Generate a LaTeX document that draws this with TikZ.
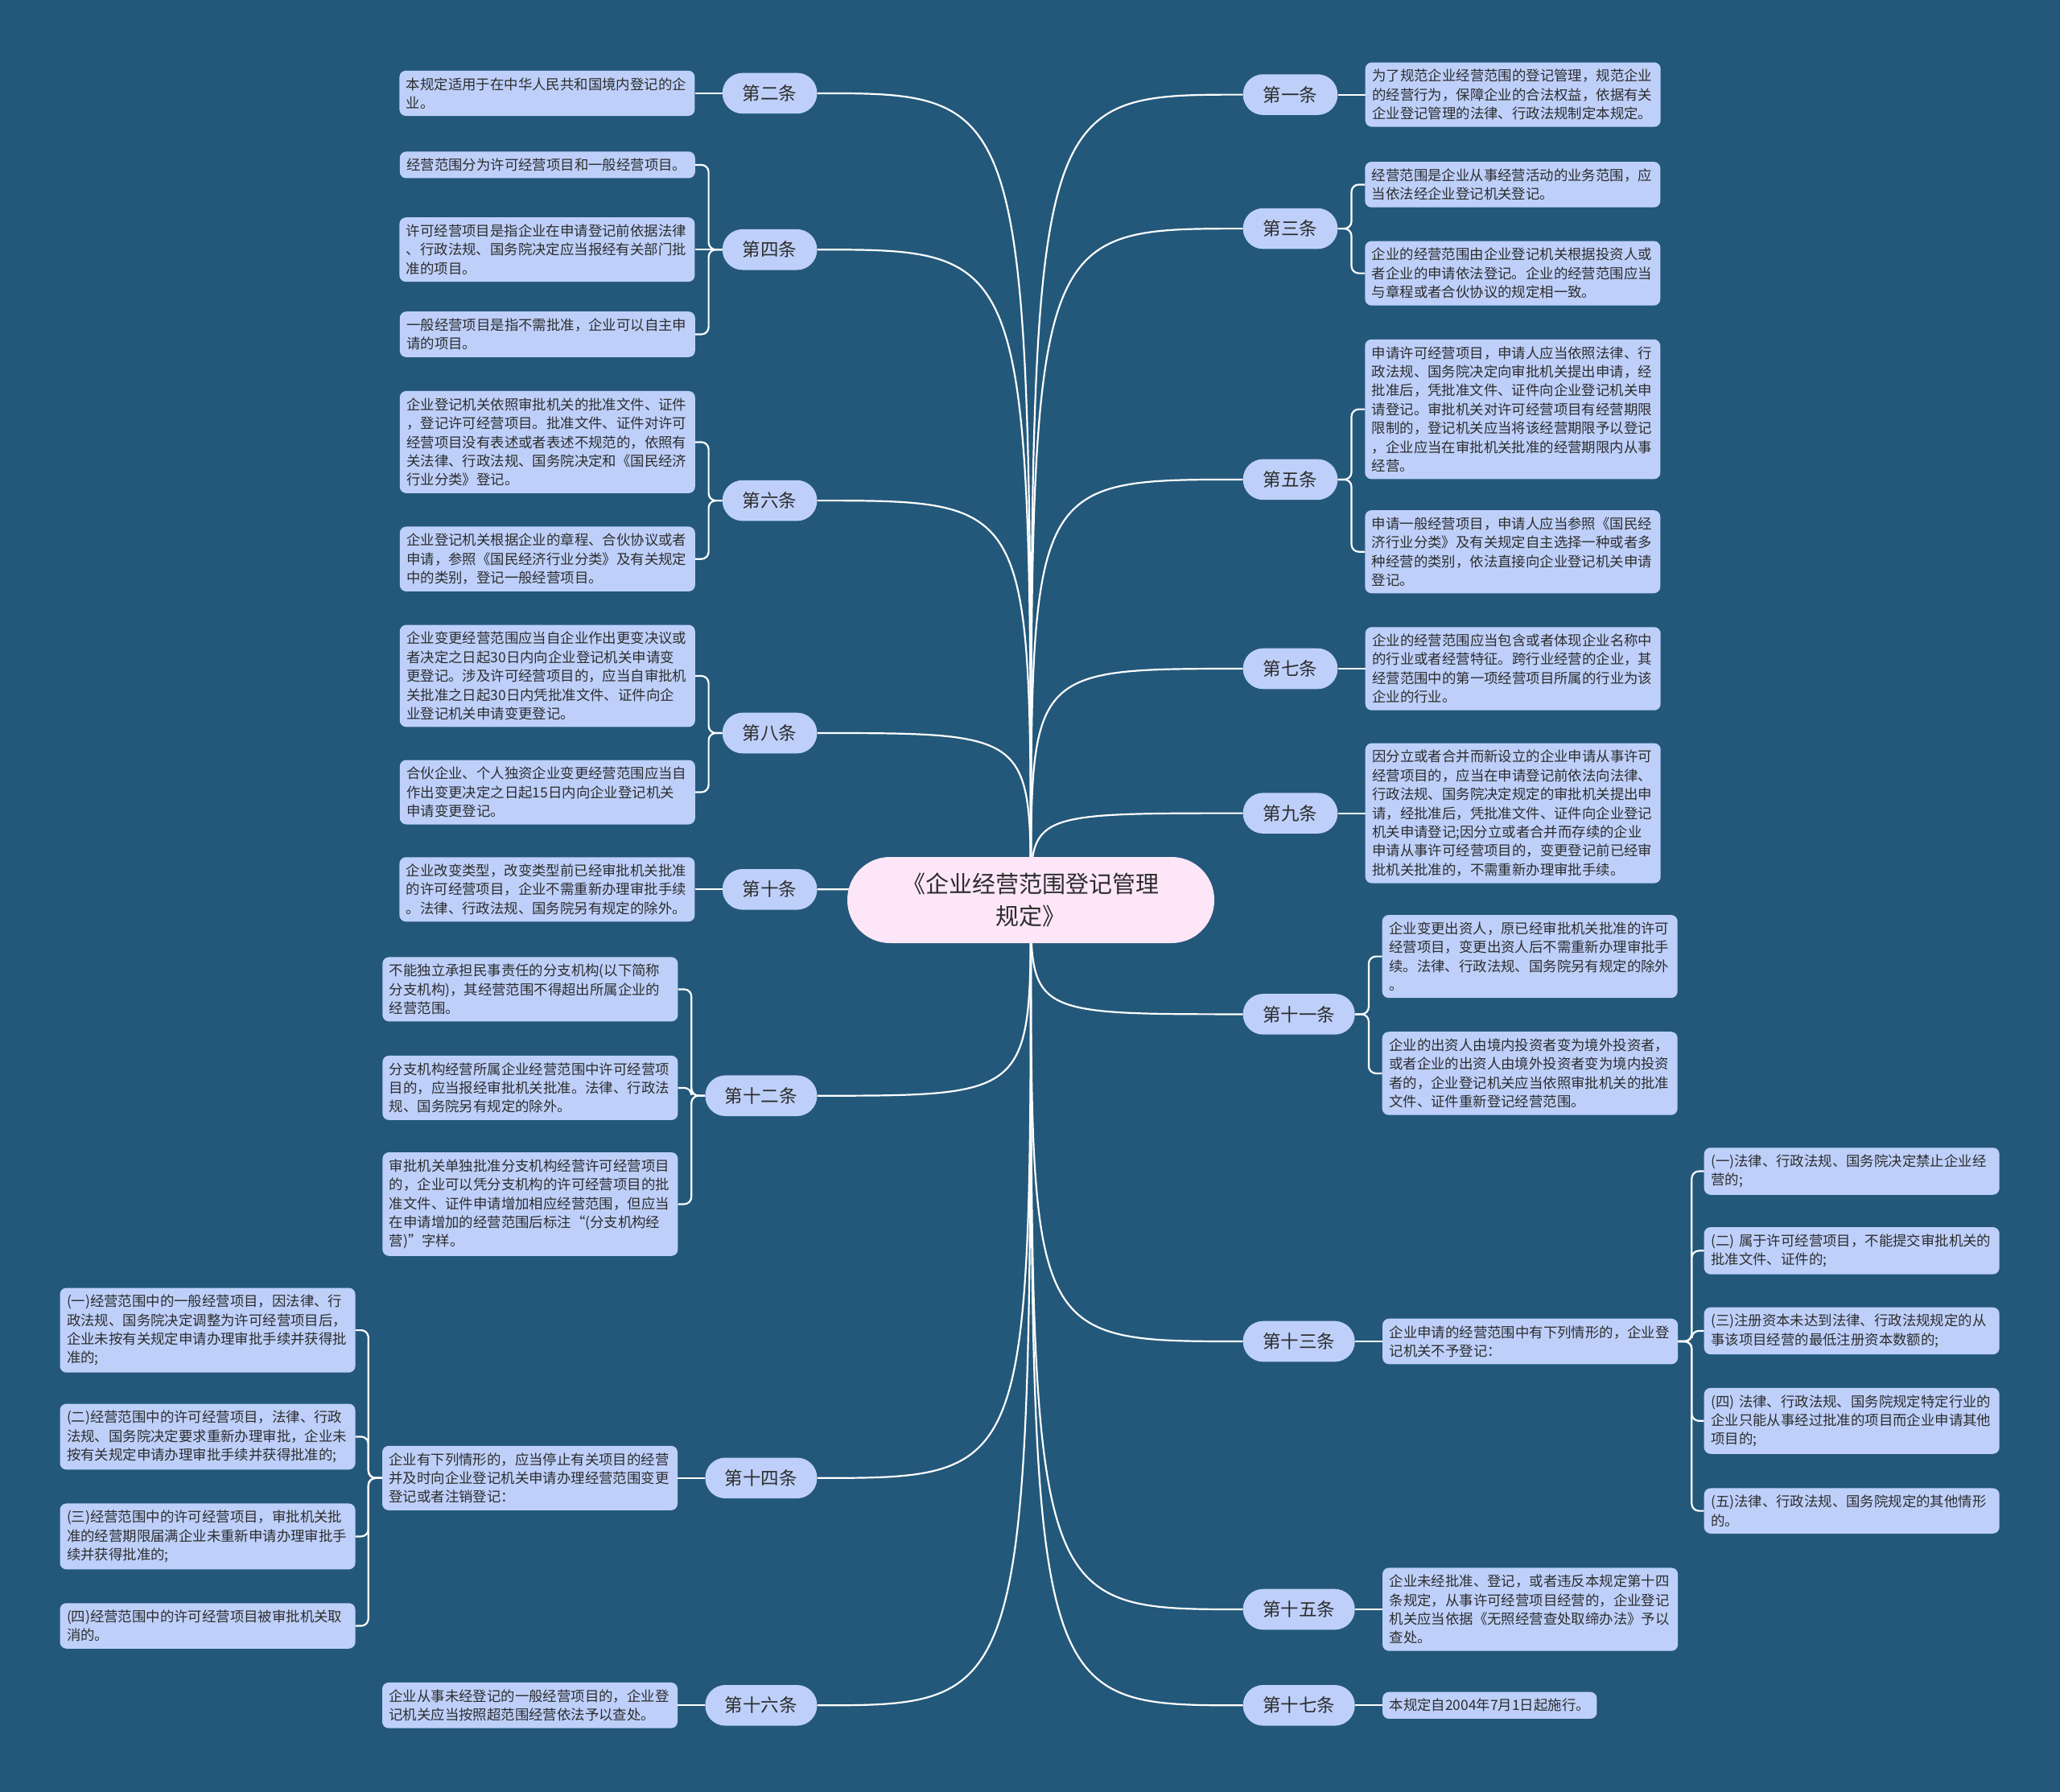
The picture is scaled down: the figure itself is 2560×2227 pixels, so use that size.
\documentclass[tikz,border=0pt]{standalone}
\usepackage{fontspec}
\newfontfamily\cjk{Noto Sans CJK SC}
\usetikzlibrary{positioning}

\definecolor{bgblue}{RGB}{35,88,122}
\definecolor{leafblue}{RGB}{190,208,250}
\definecolor{rootpink}{RGB}{253,230,248}
\definecolor{txtgray}{RGB}{45,45,45}

\pgfdeclarelayer{back}
\pgfdeclarelayer{links}
\pgfsetlayers{back,links,main}

\tikzset{
  leaf/.style={fill=leafblue, rounded corners=8pt, text=txtgray,
    font=\cjk\fontsize{17.4}{23.4}\selectfont, inner xsep=8.5pt, inner ysep=8.5pt, align=left},
  leafw/.style={leaf, text width=350pt},
  leafL/.style={leafw, anchor=east},
  leafR/.style={leafw, anchor=west},
  tiao/.style={fill=leafblue, rounded corners=25pt, text=txtgray,
    font=\cjk\fontsize{22.5}{27}\selectfont, minimum height=50.6pt, minimum width=117.6pt, inner sep=0pt},
  tiao4/.style={tiao, minimum width=139pt},
  root/.style={fill=rootpink, rounded corners=53pt, text=txtgray, align=center,
    font=\cjk\fontsize{29}{40}\selectfont, minimum width=456pt, minimum height=107pt},
  link/.style={draw=white, line width=2.2pt},
  bracket/.style={link, rounded corners=9pt},
}

\begin{document}
\begin{tikzpicture}[x=1pt, y=-1pt, node distance=34pt, line join=round, line cap=round]
    \useasboundingbox (0,0) rectangle (2560,2227);
    \begin{pgfonlayer}{back}
        \fill[bgblue] (0,0) rectangle (2560,2227);
    \end{pgfonlayer}

    % root
    \node[root] (root) at (1281,1118.5) {《企业经营范围登记管理\\规定》};

    % articles, left side
    \node[tiao, anchor=east] (p2) at (1015.6,115.9) {第二条};
    \node[tiao, anchor=east] (p4) at (1015.6,310.2) {第四条};
    \node[tiao, anchor=east] (p6) at (1015.6,622.1) {第六条};
    \node[tiao, anchor=east] (p8) at (1015.6,911.0) {第八条};
    \node[tiao, anchor=east] (p10) at (1015.6,1105.3) {第十条};
    \node[tiao4, anchor=east] (p12) at (1015.6,1361.7) {第十二条};
    \node[tiao4, anchor=east] (p14) at (1015.6,1836.8) {第十四条};
    \node[tiao4, anchor=east] (p16) at (1015.6,2119.3) {第十六条};

    % articles, right side
    \node[tiao, anchor=west] (p1) at (1544.5,117.6) {第一条};
    \node[tiao, anchor=west] (p3) at (1544.5,284.1) {第三条};
    \node[tiao, anchor=west] (p5) at (1544.5,595.9) {第五条};
    \node[tiao, anchor=west] (p7) at (1544.5,831.0) {第七条};
    \node[tiao, anchor=west] (p9) at (1544.5,1010.6) {第九条};
    \node[tiao4, anchor=west] (p11) at (1544.5,1260.4) {第十一条};
    \node[tiao4, anchor=west] (p13) at (1544.5,1667.0) {第十三条};
    \node[tiao4, anchor=west] (p15) at (1544.5,2000.0) {第十五条};
    \node[tiao4, anchor=west] (p17) at (1544.5,2119.3) {第十七条};

    % left leaves
    \node[leafw, left=of p2] (l2a) {本规定适用于在中华人民共和国境内登记的企\\业。};
    \node[leafL] (l4a) at (864,204.9) {经营范围分为许可经营项目和一般经营项目。};
    \node[leafw, left=of p4] (l4b) {许可经营项目是指企业在申请登记前依据法律\\、行政法规、国务院决定应当报经有关部门批\\准的项目。};
    \node[leafL] (l4c) at (864,415.5) {一般经营项目是指不需批准，企业可以自主申\\请的项目。};
    \node[leafL] (l6a) at (864,549.4) {企业登记机关依照审批机关的批准文件、证件\\，登记许可经营项目。批准文件、证件对许可\\经营项目没有表述或者表述不规范的，依照有\\关法律、行政法规、国务院决定和《国民经济\\行业分类》登记。};
    \node[leafL] (l6b) at (864,694.7) {企业登记机关根据企业的章程、合伙协议或者\\申请，参照《国民经济行业分类》及有关规定\\中的类别，登记一般经营项目。};
    \node[leafL] (l8a) at (864,840.0) {企业变更经营范围应当自企业作出更变决议或\\者决定之日起30日内向企业登记机关申请变\\更登记。涉及许可经营项目的，应当自审批机\\关批准之日起30日内凭批准文件、证件向企\\业登记机关申请变更登记。};
    \node[leafL] (l8b) at (864,984.5) {合伙企业、个人独资企业变更经营范围应当自\\作出变更决定之日起15日内向企业登记机关\\申请变更登记。};
    \node[leafw, left=of p10] (l10a) {企业改变类型，改变类型前已经审批机关批准\\的许可经营项目，企业不需重新办理审批手续\\。法律、行政法规、国务院另有规定的除外。};
    \node[leafL] (l12a) at (842.6,1229.4) {不能独立承担民事责任的分支机构(以下简称\\分支机构)，其经营范围不得超出所属企业的\\经营范围。};
    \node[leafL] (l12b) at (842.6,1351.9) {分支机构经营所属企业经营范围中许可经营项\\目的，应当报经审批机关批准。法律、行政法\\规、国务院另有规定的除外。};
    \node[leafL] (l12c) at (842.6,1496.4) {审批机关单独批准分支机构经营许可经营项目\\的，企业可以凭分支机构的许可经营项目的批\\准文件、证件申请增加相应经营范围，但应当\\在申请增加的经营范围后标注“(分支机构经\\营)”字样。};
    \node[leafw, left=of p14] (l14m) {企业有下列情形的，应当停止有关项目的经营\\并及时向企业登记机关申请办理经营范围变更\\登记或者注销登记：};
    \node[leafL] (l14a) at (441.7,1653.1) {(一)经营范围中的一般经营项目，因法律、行\\政法规、国务院决定调整为许可经营项目后，\\企业未按有关规定申请办理审批手续并获得批\\准的;};
    \node[leafL] (l14b) at (441.7,1785.4) {(二)经营范围中的许可经营项目，法律、行政\\法规、国务院决定要求重新办理审批，企业未\\按有关规定申请办理审批手续并获得批准的;};
    \node[leafL] (l14c) at (441.7,1909.4) {(三)经营范围中的许可经营项目，审批机关批\\准的经营期限届满企业未重新申请办理审批手\\续并获得批准的;};
    \node[leafL] (l14d) at (441.7,2020.5) {(四)经营范围中的许可经营项目被审批机关取\\消的。};
    \node[leafw, left=of p16] (l16a) {企业从事未经登记的一般经营项目的，企业登\\记机关应当按照超范围经营依法予以查处。};

    % right leaves
    \node[leafw, right=of p1] (r1a) {为了规范企业经营范围的登记管理，规范企业\\的经营行为，保障企业的合法权益，依据有关\\企业登记管理的法律、行政法规制定本规定。};
    \node[leafR] (r3a) at (1696.1,229.4) {经营范围是企业从事经营活动的业务范围，应\\当依法经企业登记机关登记。};
    \node[leafR] (r3b) at (1696.1,339.6) {企业的经营范围由企业登记机关根据投资人或\\者企业的申请依法登记。企业的经营范围应当\\与章程或者合伙协议的规定相一致。};
    \node[leafR] (r5a) at (1696.1,508.6) {申请许可经营项目，申请人应当依照法律、行\\政法规、国务院决定向审批机关提出申请，经\\批准后，凭批准文件、证件向企业登记机关申\\请登记。审批机关对许可经营项目有经营期限\\限制的，登记机关应当将该经营期限予以登记\\，企业应当在审批机关批准的经营期限内从事\\经营。};
    \node[leafR] (r5b) at (1696.1,685.7) {申请一般经营项目，申请人应当参照《国民经\\济行业分类》及有关规定自主选择一种或者多\\种经营的类别，依法直接向企业登记机关申请\\登记。};
    \node[leafw, right=of p7] (r7a) {企业的经营范围应当包含或者体现企业名称中\\的行业或者经营特征。跨行业经营的企业，其\\经营范围中的第一项经营项目所属的行业为该\\企业的行业。};
    \node[leafw, right=of p9] (r9a) {因分立或者合并而新设立的企业申请从事许可\\经营项目的，应当在申请登记前依法向法律、\\行政法规、国务院决定规定的审批机关提出申\\请，经批准后，凭批准文件、证件向企业登记\\机关申请登记;因分立或者合并而存续的企业\\申请从事许可经营项目的，变更登记前已经审\\批机关批准的，不需重新办理审批手续。};
    \node[leafR] (r11a) at (1717.5,1188.6) {企业变更出资人，原已经审批机关批准的许可\\经营项目，变更出资人后不需重新办理审批手\\续。法律、行政法规、国务院另有规定的除外\\。};
    \node[leafR] (r11b) at (1717.5,1333.9) {企业的出资人由境内投资者变为境外投资者，\\或者企业的出资人由境外投资者变为境内投资\\者的，企业登记机关应当依照审批机关的批准\\文件、证件重新登记经营范围。};
    \node[leafw, right=of p13] (r13m) {企业申请的经营范围中有下列情形的，企业登\\记机关不予登记：};
    \node[leafR] (r13a) at (2117.5,1455.5) {(一)法律、行政法规、国务院决定禁止企业经\\营的;};
    \node[leafR] (r13b) at (2117.5,1554.3) {(二) 属于许可经营项目，不能提交审批机关的\\批准文件、证件的;};
    \node[leafR] (r13c) at (2117.5,1653.9) {(三)注册资本未达到法律、行政法规规定的从\\事该项目经营的最低注册资本数额的;};
    \node[leafR] (r13d) at (2117.5,1765.8) {(四) 法律、行政法规、国务院规定特定行业的\\企业只能从事经过批准的项目而企业申请其他\\项目的;};
    \node[leafR] (r13e) at (2117.5,1877.6) {(五)法律、行政法规、国务院规定的其他情形\\的。};
    \node[leafw, right=of p15] (r15a) {企业未经批准、登记，或者违反本规定第十四\\条规定，从事许可经营项目经营的，企业登记\\机关应当依据《无照经营查处取缔办法》予以\\查处。};
    \node[leaf, right=of p17] (r17a) {本规定自2004年7月1日起施行。};

    % connectors
    \begin{pgfonlayer}{links}
        \foreach \p in {p2,p4,p6,p8,p10,p12,p14,p16}
            \draw[link] (root.center) .. controls (root.center |- \p.east) .. (\p.east);
        \foreach \p in {p1,p3,p5,p7,p9,p11,p13,p15,p17}
            \draw[link] (root.center) .. controls (root.center |- \p.west) .. (\p.west);
        \foreach \a/\b in {p2/l2a, p4/l4b, p10/l10a, p14/l14m, p16/l16a}
            \draw[link] (\a.west) -- (\b.east);
        \foreach \a/\b in {p1/r1a, p7/r7a, p9/r9a, p13/r13m, p15/r15a, p17/r17a}
            \draw[link] (\a.east) -- (\b.west);
        \foreach \a/\b in {p4/l4a, p4/l4c, p6/l6a, p6/l6b, p8/l8a, p8/l8b,
            p12/l12a, p12/l12b, p12/l12c, l14m/l14a, l14m/l14b, l14m/l14c, l14m/l14d}
            \draw[bracket] (\a.west) -- ++(-17,0) |- (\b.east);
        \foreach \a/\b in {p3/r3a, p3/r3b, p5/r5a, p5/r5b, p11/r11a, p11/r11b,
            r13m/r13a, r13m/r13b, r13m/r13c, r13m/r13d, r13m/r13e}
            \draw[bracket] (\a.east) -- ++(17,0) |- (\b.west);
    \end{pgfonlayer}
\end{tikzpicture}
\end{document}
